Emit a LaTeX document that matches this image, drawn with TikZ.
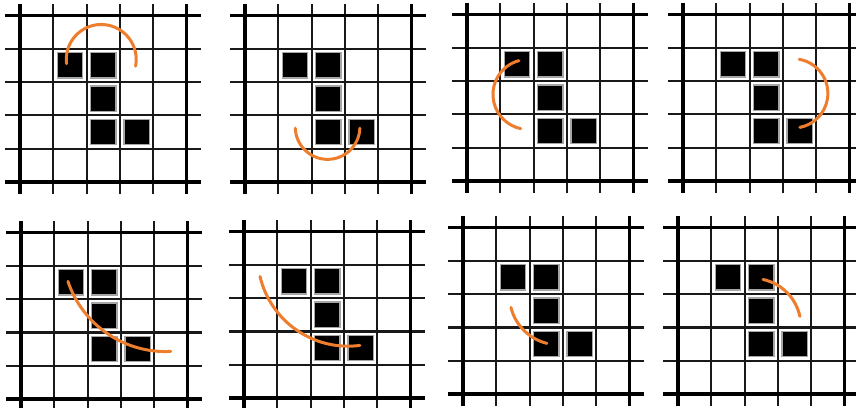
\documentclass[tikz,border=0pt]{standalone}
\usetikzlibrary{calc}
\definecolor{arcorange}{RGB}{238,125,45}

\begin{document}
\begin{tikzpicture}[x=1pt, y=1pt,
    thinline/.style={line width=2.2pt, black!90},
    thickline/.style={line width=3.3pt, black},
    cell/.style={fill=black, draw=black!35, line width=1.3pt},
    stroke/.style={draw=arcorange, line width=3pt, line cap=round}]
  \useasboundingbox (0,0) rectangle (856,407);
  \fill[white] (0,0) rectangle (856,407);
  % panel corner / arc centre / start and end angle / radius
  \foreach \px/\py/\cx/\cy/\sa/\ea/\rad in {
      20/225/2.44/3.68/187/-11/1.05,
      245/225/2.48/1.65/182/358/0.97,
      467/226/1.83/2.60/105/258/1.05,
      683/226/3.31/2.63/80/-79/1.04,
      21/8/4.336/4.511/198.5/273/3.086,
      244/9/3.126/4.274/193.3/277.5/2.718,
      463/13/2.872/2.953/193.8/256.2/1.475,
      678/13/2.253/2.033/78/12/1.438}{
    \begin{scope}[shift={(\px pt,\py pt)}, x=33.3pt, y=33.3pt]
      \foreach \i in {1,...,4} {
        \draw[thinline] (-0.45,\i) -- (5.45,\i);
        \draw[thinline] (\i,-0.35) -- (\i,5.35);
      }
      \foreach \i in {0,5} {
        \draw[thickline] (-0.45,\i) -- (5.45,\i);
        \draw[thickline] (\i,-0.35) -- (\i,5.35);
      }
      \foreach \c/\r in {1/3, 2/3, 2/2, 2/1, 3/1}
        \filldraw[cell] (\c+0.12,\r+0.12) rectangle (\c+0.88,\r+0.88);
      \draw[stroke] ($(\cx,\cy)+(\sa:\rad)$) arc[start angle=\sa, end angle=\ea, radius=\rad];
    \end{scope}
  }
\end{tikzpicture}
\end{document}
